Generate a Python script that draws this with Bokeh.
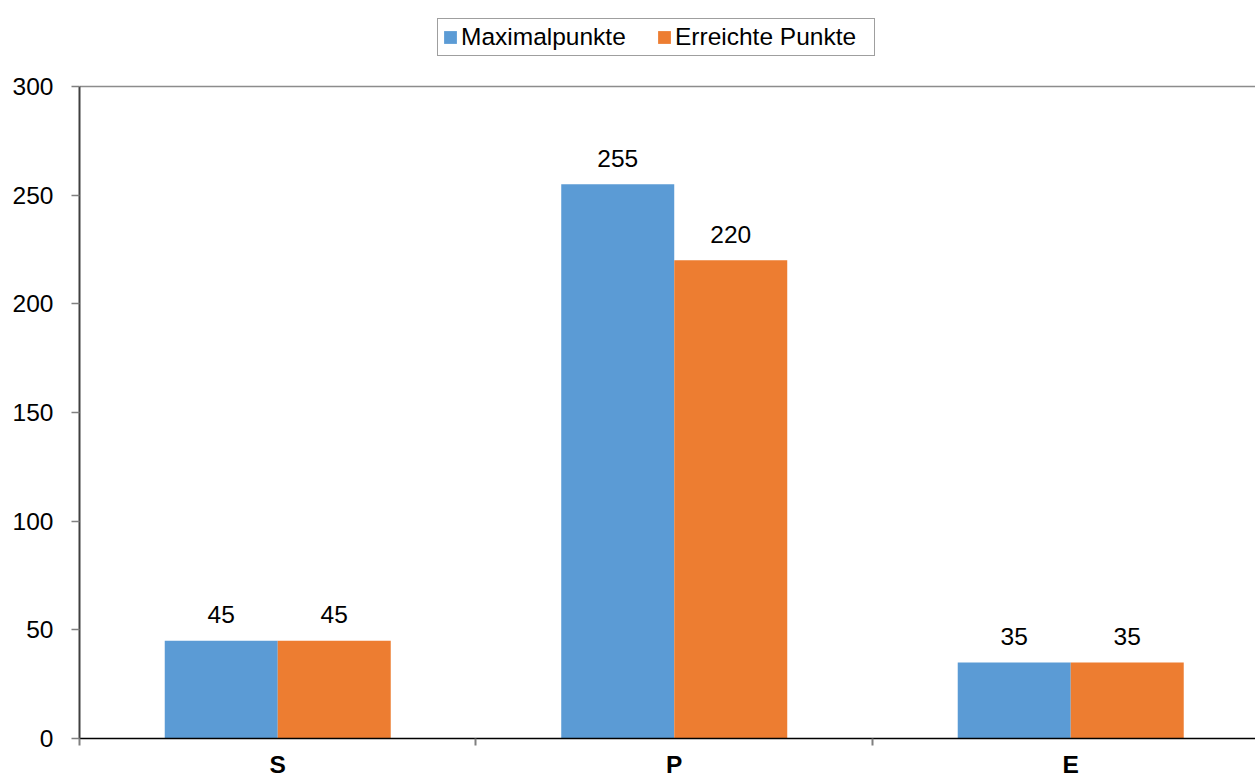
from bokeh.plotting import figure
from bokeh.models import (ColumnDataSource, Range1d, FixedTicker, LinearAxis, Grid,
                          Legend, LegendItem)
from bokeh.transform import dodge
from bokeh.core.properties import value
from bokeh.embed import file_html
from bokeh.resources import INLINE

# Chart data
categories = ["S", "P", "E"]
maximalpunkte = [45, 255, 35]
erreichte_punkte = [45, 220, 35]
y_ticks = [0, 50, 100, 150, 200, 250, 300]

BLUE = "#5B9BD5"
ORANGE = "#ED7D31"
FONT = "Liberation Sans"
FS = "24.5px"
BAR_W = 0.285
Y_MAX = 300
# headroom above the value axis that holds the legend
Y_TOP = 339.5

positions = list(range(len(categories)))
source = ColumnDataSource(data=dict(
    x=positions,
    maxp=maximalpunkte,
    err=erreichte_punkte,
    maxp_lbl=[str(v) for v in maximalpunkte],
    err_lbl=[str(v) for v in erreichte_punkte],
))

p = figure(width=1255, height=780,
           x_range=Range1d(-0.5, 2.466), y_range=Range1d(0, Y_TOP),
           x_axis_type=None, y_axis_type=None,
           output_backend="svg", toolbar_location=None,
           min_border_left=79, min_border_right=0,
           min_border_top=0, min_border_bottom=41)
p.outline_line_color = None
p.background_fill_color = "white"
p.border_fill_color = "white"

# value axis, drawn only over 0..300
yaxis = LinearAxis(ticker=FixedTicker(ticks=y_ticks, minor_ticks=[]),
                   bounds=(0, Y_MAX),
                   major_tick_out=8, major_tick_in=0,
                   minor_tick_out=0, minor_tick_in=0,
                   axis_line_color="#404040", axis_line_width=2,
                   major_tick_line_color="#808080", major_tick_line_width=1.5,
                   major_label_standoff=18,
                   major_label_text_font=FONT, major_label_text_font_size=FS,
                   major_label_text_color="black")
p.add_layout(yaxis, "left")

# category axis: labels at centres, tick marks at the boundaries
xaxis = LinearAxis(ticker=FixedTicker(ticks=positions,
                                      minor_ticks=[i - 0.5 for i in range(len(categories) + 1)]),
                   major_tick_out=7, major_tick_in=0, major_tick_line_alpha=0,
                   minor_tick_out=7, minor_tick_in=0,
                   minor_tick_line_color="#808080", minor_tick_line_width=2,
                   axis_line_color="black", axis_line_width=1.5,
                   major_label_overrides={i: c for i, c in zip(positions, categories)},
                   major_label_standoff=5,
                   major_label_text_font=FONT, major_label_text_font_size=FS,
                   major_label_text_font_style="bold", major_label_text_color="black")
p.add_layout(xaxis, "below")

# single line at the top of the value range
p.add_layout(Grid(dimension=1, ticker=FixedTicker(ticks=[Y_MAX], minor_ticks=[]),
                  grid_line_color="#8c8c8c", grid_line_width=1.5))

r_max = p.vbar(x=dodge("x", -BAR_W / 2, range=p.x_range), top="maxp", width=BAR_W,
               source=source, fill_color=BLUE, line_color=None)
r_err = p.vbar(x=dodge("x", BAR_W / 2, range=p.x_range), top="err", width=BAR_W,
               source=source, fill_color=ORANGE, line_color=None)

for col, off in (("maxp", -BAR_W / 2), ("err", BAR_W / 2)):
    p.text(x=dodge("x", off, range=p.x_range), y=col, text=col + "_lbl", source=source,
           text_align="center", text_baseline="alphabetic", y_offset=-26,
           text_font=value(FONT), text_font_size=FS, text_color="black")

legend = Legend(items=[LegendItem(label="Maximalpunkte", renderers=[r_max]),
                       LegendItem(label="Erreichte Punkte", renderers=[r_err])],
                orientation="horizontal", location=(358, 682),
                padding=4, margin=0, spacing=0, label_width=195,
                glyph_width=16, glyph_height=16, label_standoff=3,
                label_text_font=FONT, label_text_font_size=FS, label_text_color="black",
                border_line_color="#404040", border_line_width=1,
                background_fill_color="white", background_fill_alpha=1.0)
p.add_layout(legend, "center")

open("out.html", "w").write(file_html(p, INLINE))
